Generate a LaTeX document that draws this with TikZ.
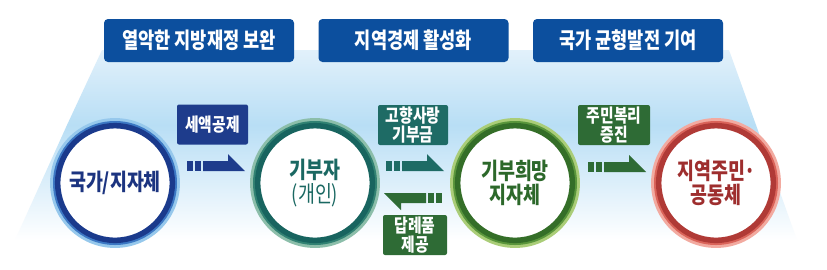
\documentclass[tikz,border=0pt]{standalone}
\usepackage{fontspec}
\newfontfamily\kr[FakeStretch=0.8]{Noto Sans CJK KR}
\definecolor{topbox}{RGB}{12,79,158}
\definecolor{bgblue}{RGB}{184,222,245}
\definecolor{bgpale}{RGB}{226,241,251}
\definecolor{navyA}{RGB}{30,60,140}
\definecolor{tealA}{RGB}{30,107,101}
\definecolor{greenA}{RGB}{46,107,53}
\definecolor{navyT}{RGB}{28,52,128}
\definecolor{tealT}{RGB}{26,104,98}
\definecolor{greenT}{RGB}{44,104,42}
\definecolor{redT}{RGB}{158,46,46}
% ring colours
\definecolor{bOut}{RGB}{150,200,236}
\definecolor{bMid}{RGB}{60,120,196}
\definecolor{bIn}{RGB}{26,58,140}
\definecolor{tOut}{RGB}{140,190,170}
\definecolor{tMid}{RGB}{50,130,115}
\definecolor{tIn}{RGB}{24,100,95}
\definecolor{gOut}{RGB}{170,205,120}
\definecolor{gMid}{RGB}{90,150,60}
\definecolor{gIn}{RGB}{52,110,40}
\definecolor{rOut}{RGB}{242,170,160}
\definecolor{rMid}{RGB}{218,100,90}
\definecolor{rIn}{RGB}{176,58,54}
\tikzset{
  topnode/.style={fill=topbox, rounded corners=4pt, minimum width=190pt, minimum height=43pt,
    inner sep=0pt, text=white, font=\kr\bfseries\fontsize{22}{24}\selectfont},
  lbl/.style={rounded corners=2pt, inner sep=0pt, minimum height=40pt, text=white, align=center,
    font=\kr\bfseries\fontsize{18.5}{18.5}\selectfont},
  circnode/.style={circle, fill=white, minimum size=110pt, inner sep=0pt, align=center,
    font=\kr\bfseries\fontsize{23}{24}\selectfont},
  flagarr/.pic={
    \fill (0,0) rectangle (6,-10);
    \fill (8,0) rectangle (14,-10);
    \fill (16,0) -- (16,-10) -- (41,-10) -- (41,-17) -- (58,0) -- cycle;
  }
}
\newcommand\myring[4]{%
  \draw[line width=3.5pt, #2] (#1.center) circle[radius=63.2];
  \draw[line width=3pt, #3] (#1.center) circle[radius=60.5];
  \draw[line width=5.5pt, #4] (#1.center) circle[radius=57.3];
}
\begin{document}
\begin{tikzpicture}[x=1pt,y=-1pt]
\useasboundingbox (0,0) rectangle (827,269);
\fill[white] (0,0) rectangle (827,269);
% background trapezoid
\shade[top color=bgpale, bottom color=bgblue] (102,50) -- (729,50) -- (756,125) -- (67,125) -- cycle;
\shade[top color=bgblue, bottom color=white] (67,125) -- (756,125) -- (797,240) -- (15,240) -- cycle;
% top boxes
\node[topnode] (t1) at (199,40.5) {열악한 지방재정 보완};
\node[topnode] (t2) at (413.5,40.5) {지역경제 활성화};
\node[topnode] (t3) at (628,40.5) {국가 균형발전 기여};
% circles
\node[circnode, text=navyT] (c1) at (115,183) {\raisebox{-4pt}{국가/지자체}};
\node[circnode, text=tealT] (c2) at (315,183) {기부자\\{\mdseries (개인)}};
\node[circnode, text=greenT] (c3) at (515,183) {기부희망\\지자체};
\node[circnode, text=redT] (c4) at (716,183) {지역주민\makebox[0.4em][c]{·}\\공동체};
\myring{c1}{bOut}{bMid}{bIn}
\myring{c2}{tOut}{tMid}{tIn}
\myring{c3}{gOut}{gMid}{gIn}
\myring{c4}{rOut}{rMid}{rIn}
% labels
\node[lbl, fill=navyA, minimum width=71pt] (l1) at (212.5,124.5) {세액공제};
\node[lbl, fill=tealA, minimum width=70pt] (l2) at (413,125) {고향사랑\\기부금};
\node[lbl, fill=greenA, minimum width=64pt] (l3) at (415,235) {답례품\\제공};
\node[lbl, fill=greenA, minimum width=72pt] (l4) at (614,125) {주민복리\\증진};
% arrows
\pic[color=navyA] at (187,171) {flagarr};
\pic[color=tealA] at (386,171) {flagarr};
\pic[color=greenA, rotate=180] at (442,193) {flagarr};
\pic[color=greenA] at (588,172) {flagarr};
\end{tikzpicture}
\end{document}
